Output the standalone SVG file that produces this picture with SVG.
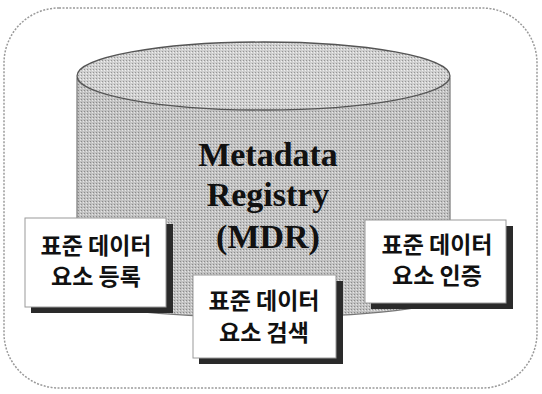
<svg xmlns="http://www.w3.org/2000/svg" width="542" height="394" viewBox="0 0 542 394">
<style>
.box{fill:#ffffff;stroke:#9a9a9a;stroke-width:1}
.shadow{fill:#2a2a2a}
.kt{font-family:"Noto Sans CJK KR","Noto Sans",sans-serif;font-size:23px;font-weight:bold;fill:#111;text-anchor:middle}
.title{font-family:"Liberation Serif","Times New Roman",serif;font-size:34px;font-weight:bold;fill:#111;text-anchor:middle}
</style>
<defs>
<pattern id="dots" width="3" height="3" patternUnits="userSpaceOnUse">
<rect width="3" height="3" fill="#c2c2c2"/>
<rect width="1" height="1" fill="#8a8a8a"/>
<rect x="2" y="1" width="1" height="1" fill="#e6e6e6"/>
</pattern>
<pattern id="dots2" width="3" height="3" patternUnits="userSpaceOnUse">
<rect width="3" height="3" fill="#cfcfcf"/>
<rect width="1" height="1" fill="#959595"/>
<rect x="2" y="1" width="1" height="1" fill="#f0f0f0"/>
</pattern>
</defs>
<rect width="542" height="394" fill="#ffffff"/>
<g id="frame">
<rect x="4" y="8" width="533" height="380" rx="55" ry="55" fill="none" stroke="#9a9a9a" stroke-width="1.5" stroke-dasharray="2 1.5"/>
</g>
<g id="cylinder">
<path d="M77 78 L77 295 A186.5 22 0 0 0 450 295 L450 78 Z" fill="url(#dots)" stroke="#777" stroke-width="1.2"/>
<ellipse cx="263.5" cy="76" rx="186.5" ry="34" fill="url(#dots2)" stroke="#555" stroke-width="1.3"/>
<text class="title" x="268" y="166">Metadata</text>
<text class="title" x="268" y="206">Registry</text>
<text class="title" x="268" y="248">(MDR)</text>
</g>
<g id="connectors"></g>
<g id="node-register">
<rect class="shadow" x="31" y="224" width="142" height="89"/>
<rect class="box" x="25" y="218" width="141" height="89"/>
<text class="kt" x="96" y="254">표준 데이터</text>
<text class="kt" x="96" y="285">요소 등록</text>
</g>
<g id="node-search">
<rect class="shadow" x="199" y="281" width="144" height="83"/>
<rect class="box" x="193" y="275" width="143" height="83"/>
<text class="kt" x="264" y="309">표준 데이터</text>
<text class="kt" x="264" y="341">요소 검색</text>
</g>
<g id="node-certify">
<rect class="shadow" x="371" y="226" width="142" height="83"/>
<rect class="box" x="365" y="220" width="141" height="83"/>
<text class="kt" x="437" y="253">표준 데이터</text>
<text class="kt" x="437" y="284">요소 인증</text>
</g>
</svg>
